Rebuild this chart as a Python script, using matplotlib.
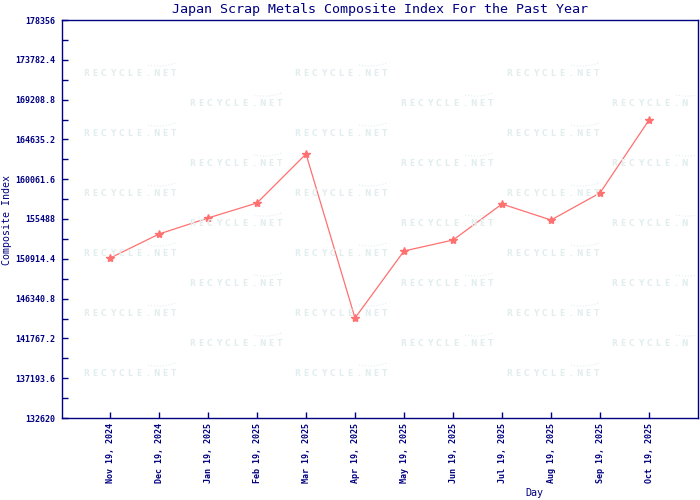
import matplotlib
matplotlib.use('Agg')
import matplotlib.pyplot as plt
from matplotlib.lines import Line2D
import numpy as np

# data
dates = ['Nov 19, 2024', 'Dec 19, 2024', 'Jan 19, 2025', 'Feb 19, 2025', 'Mar 19, 2025', 'Apr 19, 2025',
         'May 19, 2025', 'Jun 19, 2025', 'Jul 19, 2025', 'Aug 19, 2025', 'Sep 19, 2025', 'Oct 19, 2025']
values = [151000, 153760, 155600, 157330, 162960, 144110,
          151810, 153070, 157210, 155370, 158480, 166860]
yticks = [132620, 137193.6, 141767.2, 146340.8, 150914.4, 155488, 160061.6, 164635.2, 169208.8, 173782.4, 178356]
ytick_labels = ['132620', '137193.6', '141767.2', '146340.8', '150914.4', '155488',
                '160061.6', '164635.2', '169208.8', '173782.4', '178356']

navy = '#000080'
mono = 'DejaVu Sans Mono'
wm_color = '#e2eded'

W, H = 700, 500
fig = plt.figure(figsize=(7, 5), dpi=100)
ax = fig.add_axes([62/W, 82/H, 636/W, 398/H])


def watermark(cx, cy):
    # spaced out letters, like the tiled logo in the background
    word = 'RECYCLE.NET'
    step = 8.8
    x0 = cx - step * (len(word) - 1) / 2
    for k, ch in enumerate(word):
        lx = x0 + k*step
        if lx > 693:
            continue  # the logo is cut at the right edge
        fig.text(lx/W, 1 - cy/H, ch, color=wm_color, fontsize=5.5, fontweight='bold',
                 family='DejaVu Sans', ha='center', va='center', zorder=0)
    t = np.linspace(0, 1, 20)
    sx = cx + 18 + 28*t
    sy = cy - 8 + 2*np.sin(np.pi*t) - 2*t
    keep = sx < 697
    fig.add_artist(Line2D(sx[keep]/W, 1 - sy[keep]/H, color=wm_color, linewidth=0.8, linestyle=':', zorder=0))


for yy in [73, 133, 193, 253, 313, 373]:
    for xx in [130, 341, 553]:
        watermark(xx, yy)
for yy in [103, 163, 223, 283, 343]:
    for xx in [236, 447, 658]:
        watermark(xx, yy)
ax.patch.set_alpha(0)

x = np.arange(len(dates))
ax.plot(x, values, color='#ff7070', linewidth=0.9, marker='*', markersize=6,
        markerfacecolor='#ff7070', markeredgecolor='#ff7070')

ax.set_xlim(-0.98, 12.0)
ax.set_ylim(yticks[0], yticks[-1])
ax.set_yticks(yticks)
ax.set_yticklabels(ytick_labels, family=mono, fontsize=6, fontweight='bold', color=navy)
ax.set_yticks([(yticks[i] + yticks[i+1]) / 2 for i in range(len(yticks) - 1)], minor=True)
ax.set_xticks(x)
ax.set_xticklabels(dates, rotation=90, family=mono, fontsize=6, fontweight='bold', color=navy)

ax.tick_params(axis='both', which='both', direction='in', color=navy, length=4, width=1)
ax.tick_params(axis='y', pad=4.5)
ax.tick_params(axis='x', pad=3.5)
for s in ax.spines.values():
    s.set_color(navy)
    s.set_linewidth(1)

fig.text(380/W, 1 - 9/H, 'Japan Scrap Metals Composite Index For the Past Year', ha='center', va='center',
         color=navy, family=mono, fontsize=9.6)
fig.text(7/W, 1 - 220/H, 'Composite Index', rotation=90, ha='center', va='center',
         color=navy, family=mono, fontsize=7.2)
fig.text(534/W, 1 - 493/H, 'Day', ha='center', va='center', color=navy, family=mono, fontsize=7.2)

fig.savefig('out.png', dpi=100)
